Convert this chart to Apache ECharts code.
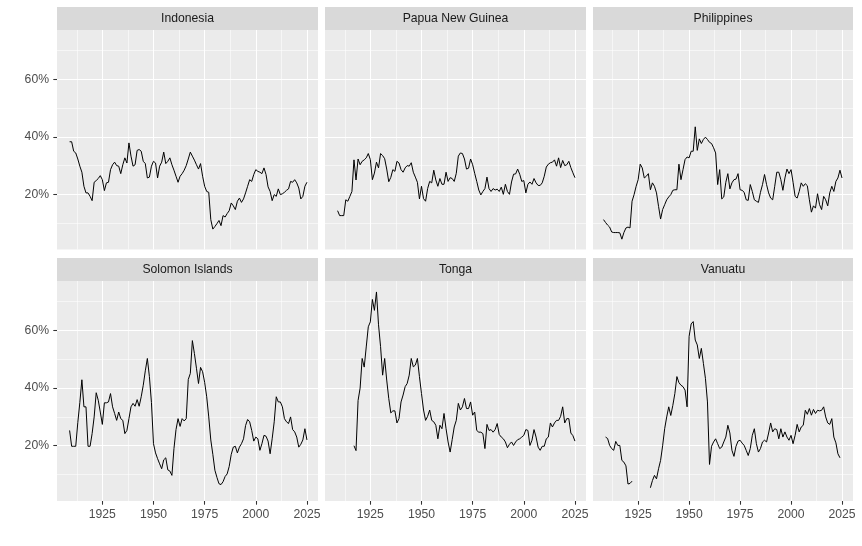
<!DOCTYPE html>
<html><head><meta charset="utf-8">
<script src="https://cdn.jsdelivr.net/npm/echarts@6/dist/echarts.min.js"></script>
<style>html,body{margin:0;padding:0;background:#fff}#c{width:862px;height:546px}</style>
</head><body><div id="c"></div>
<script>
const countries = ['Indonesia','Papua New Guinea','Philippines','Solomon Islands','Tonga','Vanuatu'];
const xTicks = [1925, 1950, 1975, 2000, 2025];
const xMinor = [1912.5, 1937.5, 1962.5, 1987.5, 2012.5];
const yTicks = [0.2, 0.4, 0.6];
const yMinor = [0.1, 0.3, 0.5, 0.7];

const indonesiaStart = 1909;
const indonesia = [38.3,38.3,35,34.4,32.3,29.8,27.7,22.8,20.5,20.5,19.3,17.8,24.2,24.8,25.5,26.5,25.1,21.3,24,24.2,
28.6,30.3,31.2,30,29.8,27.2,30.3,32.7,30.9,37.9,33.3,29.8,30.3,35.3,35.6,35,31.5,30.7,25.7,26,
29.8,31.5,30.9,25.7,29.8,31.2,34.7,30.7,31.5,32.7,30.3,28.4,26.3,24.2,26.3,27.2,28.4,30,32.3,34.7,
33.3,31.9,30.3,28.8,30.7,26.3,22.8,21,20.7,11.2,7.9,8.8,9.8,10.9,9.1,12.6,12.1,13.3,14.3,17,
16,14.7,17.6,18.7,17.2,18.4,20.5,22.8,25.1,24.5,26.9,28.6,28,27.7,27.2,29.2,26.9,22.6,21,17.8,
19.9,19.3,21.9,19.9,20.2,20.7,21.4,21.9,24.5,24.2,25.1,24,22.2,18.4,19.3,22.8,24.2];

const pngStart = 1909;
const png = [14.3,12.6,12.6,12.6,18.1,17.6,19.3,21,32,25,32.3,30.3,31.5,32,32.7,34.2,32.1,25.1,27.4,31.2,
29.2,34.2,33.5,32.4,28.8,24.4,25.9,28.6,28,31.5,30.9,28.6,27.7,29.2,30,29.8,31,27.7,26,24.2,
18.4,22.8,18.5,17.6,22,24.5,24,28.4,25,22.8,25.5,23.5,23.5,27.7,24.5,25.8,25.5,24.5,27.3,33.3,
34.4,34.2,32.3,28.8,29.1,32.3,30.3,27.3,24.5,21.5,19.8,21,22,26,22,21,22,21.5,21.8,21,
22.5,20,23.5,21,20,24.3,27,27.1,28.8,27,24.5,24.8,20.5,23.5,24.3,23.5,25.5,24,23.1,23.1,
24,26.3,29.5,30.5,31,31.2,32,29.8,32.7,29.3,31.8,30,30.3,31.5,29.3,27.5,25.8];

const philippinesStart = 1908;
const philippines = [11.2,10.2,9.3,8.6,6.9,6.7,6.7,6.7,6.6,4.4,6.7,8.3,8.6,8.3,17.6,19.9,22.8,25.1,30.5,29.2,
25.7,26.3,27.2,21.6,24,22.8,20.5,15.8,11.4,14.7,16.4,18.1,19.1,19.9,21.4,21.6,21.6,30.5,25.1,28.6,
32.1,33,32.7,35,35,43.5,35.3,39.3,37.7,39.1,39.9,39.1,38.1,37.7,36.2,34.4,23.4,28.6,18.4,19.1,
24.2,27.2,21.9,24,25.1,25.3,27.2,21.6,21.4,20.7,18.1,17.9,23.4,21,18.1,17.6,17.2,20.7,23.4,26.9,
23.4,20.5,18.7,18.1,22.8,27.7,27.7,25.1,21.4,25.7,28.8,27.2,28.6,24.2,19.3,18.7,21,24,22.8,23.7,
23,18.1,13.8,16,15.2,20.2,16.4,14.7,19.3,18.1,16,20.5,22.8,21,24.5,25.7,28.4,25.7];

const solomonStart = 1909;
const solomon = [25.3,19.8,19.8,19.8,28,35,42.9,33.5,33.5,19.8,19.8,24.2,30,38.4,35.8,31.7,27.4,34.9,34.9,35.2,
38.1,33.5,31.2,28.8,31.7,29.4,28.8,24.2,25.3,29.4,33.5,34.7,33.7,36,33.7,37,41,46,50.3,44,
35,20.7,17.5,15.5,13.7,12,15.1,15.8,11.6,11.2,9.7,19,25.6,29.4,26.7,29.4,28.6,29.4,43,45.1,
56.5,52,46.9,41.6,47.2,45.7,42,37,30,22,17,11.5,9,6.8,6.5,7.5,9.3,10.2,12.8,17,
19.5,19.8,17.5,19.5,20.7,22.4,27,29.1,28.3,25.3,21.6,23,22.4,18.4,20.7,23.6,23.3,21.6,17.2,22.4,
28.3,37,35.2,35.2,33.5,29.4,28.3,27.7,30,25.6,24.8,23,19.5,20.5,22,25.9,22];

const tongaStart = 1917;
const tonga = [20,18.3,35.7,40,50.3,47.3,54.3,61.3,63,70.8,67,73.4,62,54.4,44.5,50.3,42.8,36.4,31.4,32.1,
32.1,27.9,29.4,35.2,37.6,40.5,41.6,44.5,50.3,47.4,48,50.3,44,38.1,32.4,28.8,30.2,32.4,28.8,28.3,
27.1,22.4,27.1,25.9,31.2,25.9,21.3,17.8,22.1,26.5,28.8,34.7,32.4,33.5,36.4,32.9,32.9,35.2,30.6,31.7,
25.3,24.7,24.7,24.2,19,27.4,25.3,25.6,24.7,25.6,27.7,23.9,23,22.4,21.3,19.3,20.5,21.3,20.1,21.3,
22.1,22.4,23,23.6,25.6,25.3,20.1,21.9,25.6,23,19.5,18.4,19.8,19.8,22.4,23,27.9,26.5,27.9,28.8,
28.8,30.2,33.5,27.9,29.4,29.4,24.4,23.5,21.6];

const vanuatuStart = 1909;
const vanuatu = [23,22.5,20.1,19,18.4,21.5,20.1,20.1,14.9,14.3,13,6.7,6.9,7.7,null,null,null,null,null,null,
null,null,5.4,7.9,9.7,8.5,12,14.9,20,25.9,30,33.5,30.5,34,38.1,44,41.9,41,40.5,39.3,
33.5,58,62.3,63.1,56.7,55,50.3,53.8,48.6,43.4,35.2,13.5,19.8,21.3,22.4,20.7,19,19.5,21.3,23,
27.1,24.4,18.4,16.3,19.8,21.6,21.9,20.9,20.1,18.4,16.6,19,23.6,25.9,20.7,17.8,19,21.3,21.9,21.3,
24.4,27.9,24.8,25.9,25.6,22.4,25.9,23,24.8,23,21.9,23.6,20.7,23.6,27.4,24.8,26.5,27.1,32.3,30.9,
32.9,30.6,32.6,31.2,32.3,32.1,32.3,33.5,30,27.9,27.4,29.4,23,21,17.2,15.8];

const seriesData = [
  [indonesiaStart, indonesia], [pngStart, png], [philippinesStart, philippines],
  [solomonStart, solomon], [tongaStart, tonga], [vanuatuStart, vanuatu]
];

function toPairs(start, vals) {
  return vals.map((v, k) => [start + k, v == null ? '-' : v / 100]);
}

const colLeft = [57, 325, 593];
const colWidth = [261, 261, 260];
const rowTop = [30, 281];
const rowHeight = [219.5, 220];
const stripH = 23;
const FONT = "'Liberation Sans', Arial, sans-serif";
const FS = 12.2;

const grids = [], xAxes = [], yAxes = [], series = [], graphics = [];

countries.forEach((name, i) => {
  const r = Math.floor(i / 3), c = i % 3;
  grids.push({left: colLeft[c], top: rowTop[r], width: colWidth[c], height: rowHeight[r],
    show: true, backgroundColor: '#EBEBEB', borderWidth: 0, containLabel: false});
  xAxes.push({
    type: 'value', gridIndex: i, min: 1902.84, max: 2030.4,
    splitLine: {show: false}, axisLine: {show: false},
    axisTick: {show: r === 1, customValues: xTicks, length: 3.7, lineStyle: {color: '#333333', width: 1.07}},
    axisLabel: {show: r === 1, customValues: xTicks, color: '#4D4D4D', fontSize: FS, fontFamily: FONT, margin: 8,
      formatter: v => String(Math.round(v))}
  });
  yAxes.push({
    type: 'value', gridIndex: i, min: 0.008, max: 0.772,
    splitLine: {show: false}, axisLine: {show: false},
    axisTick: {show: c === 0, customValues: yTicks, length: 3.7, lineStyle: {color: '#333333', width: 1.07}},
    axisLabel: {show: c === 0, customValues: yTicks, color: '#4D4D4D', fontSize: FS, fontFamily: FONT, margin: 8,
      formatter: v => Math.round(v * 100) + '%'}
  });
  const gridLines = [];
  yMinor.forEach(v => gridLines.push({yAxis: v, lineStyle: {width: 0.55}}));
  xMinor.forEach(v => gridLines.push({xAxis: v, lineStyle: {width: 0.55}}));
  yTicks.forEach(v => gridLines.push({yAxis: v, lineStyle: {width: 1.1}}));
  xTicks.forEach(v => gridLines.push({xAxis: v, lineStyle: {width: 1.1}}));
  const [start, vals] = seriesData[i];
  series.push({
    name, type: 'line', xAxisIndex: i, yAxisIndex: i, z: 3,
    data: toPairs(start, vals), showSymbol: false, symbol: 'none', connectNulls: false,
    lineStyle: {color: '#000000', width: 1}, animation: false, silent: true,
    markLine: {silent: true, symbol: 'none', z: 1, animation: false, label: {show: false},
      lineStyle: {color: '#FFFFFF', type: 'solid'}, emphasis: {disabled: true}, data: gridLines}
  });
  const sx = colLeft[c], sy = rowTop[r] - stripH;
  graphics.push({type: 'rect', shape: {x: sx, y: sy, width: colWidth[c], height: stripH}, style: {fill: '#D9D9D9'}, silent: true});
  graphics.push({type: 'text', x: sx + colWidth[c] / 2, y: sy + stripH / 2 + 0.5,
    style: {text: name, fill: '#1A1A1A', fontSize: FS, fontFamily: FONT, align: 'center', verticalAlign: 'middle'}, silent: true});
});

const chart = echarts.init(document.getElementById('c'), null, {renderer: 'canvas'});
chart.setOption({
  backgroundColor: '#FFFFFF', animation: false,
  grid: grids, xAxis: xAxes, yAxis: yAxes, series, graphic: graphics
});
</script></body></html>
